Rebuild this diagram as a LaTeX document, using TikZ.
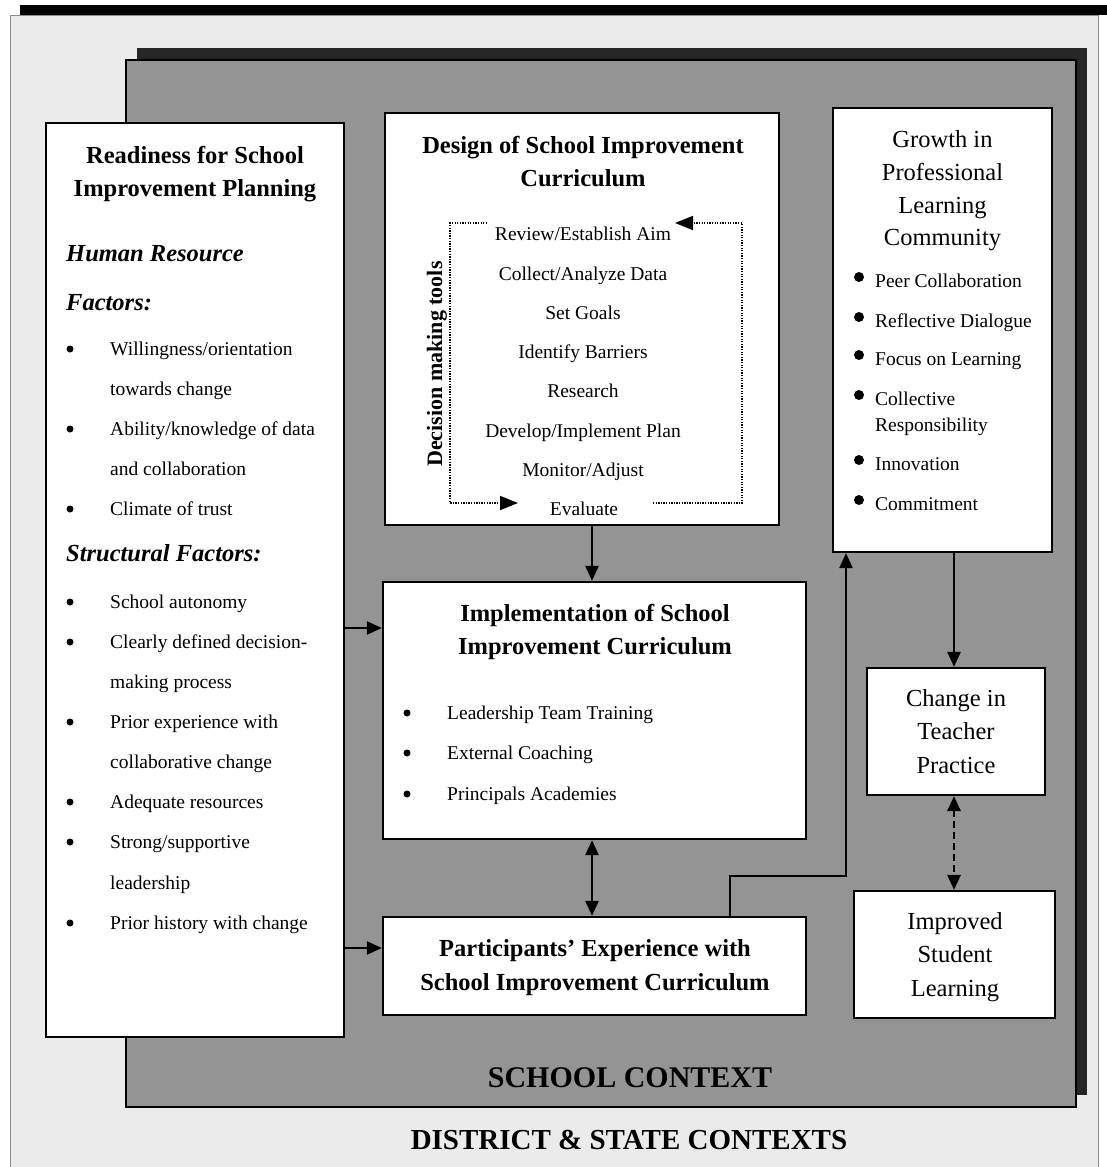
\documentclass[tikz,border=0pt]{standalone}
\usepackage{fontspec}
\setmainfont{Liberation Serif}
\usetikzlibrary{arrows.meta,calc}
\begin{document}
\begin{tikzpicture}[x=1pt,y=-1pt,
  box/.style={draw=black, line width=2.2pt, fill=white, rectangle, inner sep=0pt},
  hd/.style={font=\fontsize{24.5}{30}\selectfont\bfseries, anchor=base, inner sep=0pt},
  hdl/.style={font=\fontsize{24.5}{30}\selectfont\bfseries\itshape, anchor=base west, inner sep=0pt},
  tt/.style={font=\fontsize{24.5}{30}\selectfont, anchor=base, inner sep=0pt},
  bd/.style={font=\fontsize{19.5}{24}\selectfont, anchor=base west, inner sep=0pt},
  bdc/.style={font=\fontsize{19.5}{24}\selectfont, anchor=base, inner sep=0pt},
  dotb/.style={fill=black, circle, inner sep=0pt, minimum size=7pt},
  dotB/.style={fill=black, circle, inner sep=0pt, minimum size=10pt},
  arr/.style={line width=2.4pt, line join=miter, -{Triangle[length=15pt,width=13pt]}},
  darr/.style={line width=2.4pt, {Triangle[length=15pt,width=13pt]}-{Triangle[length=15pt,width=13pt]}},
  dotarr/.style={line width=1.8pt, dash pattern=on 1.3pt off 1.3pt, line join=miter, -{Triangle[length=18pt,width=14pt]}}
]
\useasboundingbox (0,0) rectangle (1107,1167);
% district & state background
\fill[black!8] (10,15) rectangle (1098,1167);
\draw[black!45, line width=0.8pt] (10,1167) -- (10,15) -- (1098,15) -- (1098,1167);
\fill[black] (20,5) rectangle (1107,15);
% school context
\fill[black!85] (137,48) rectangle (1087,1095);
\fill[black!42] (126,60) rectangle (1076,1107);
\draw[black, line width=1.4pt] (126,60) rectangle (1076,1107);
\node[font=\fontsize{30}{34}\selectfont\bfseries, inner sep=0pt] (school) at (630,1078) {SCHOOL CONTEXT};
\node[font=\fontsize{29}{34}\selectfont\bfseries, inner sep=0pt] (district) at (629,1140) {DISTRICT \& STATE CONTEXTS};

% boxes
\node[box, minimum width=298pt, minimum height=914pt] (ready) at (195,580) {};
\node[box, minimum width=394pt, minimum height=412pt] (design) at (582,319) {};
\node[box, minimum width=219pt, minimum height=444pt] (growth) at (942.5,330) {};
\node[box, minimum width=423pt, minimum height=257pt] (impl) at (594.5,710.5) {};
\node[box, minimum width=423pt, minimum height=98pt] (part) at (594.5,966) {};
\node[box, minimum width=178pt, minimum height=127pt] (change) at (956,731.5) {};
\node[box, minimum width=201pt, minimum height=127pt] (improved) at (954.5,954.5) {};

% readiness text
\node[hd] (r1) at (195,163.5) {Readiness for School};
\node[hd] (r2) at (195,196.5) {Improvement Planning};
\node[hdl] (hr1) at (66,261.5) {Human Resource};
\node[hdl] (hr2) at (66,310.5) {Factors:};
\node[dotb] (b1) at (70,349) {};
\node[bd] (t1) at (110,355) {Willingness/orientation};
\node[bd] (t1b) at (110,395) {towards change};
\node[dotb] (b2) at (70,429) {};
\node[bd] (t2) at (110,435) {Ability/knowledge of data};
\node[bd] (t2b) at (110,475) {and collaboration};
\node[dotb] (b3) at (70,509) {};
\node[bd] (t3) at (110,515) {Climate of trust};
\node[hdl] (sf) at (66,561.5) {Structural Factors:};
\node[dotb] (s1) at (70,602) {};
\node[bd] (u1) at (110,608) {School autonomy};
\node[dotb] (s2) at (70,642) {};
\node[bd] (u2) at (110,648) {Clearly defined decision-};
\node[bd] (u2b) at (110,688) {making process};
\node[dotb] (s3) at (70,722) {};
\node[bd] (u3) at (110,728) {Prior experience with};
\node[bd] (u3b) at (110,768) {collaborative change};
\node[dotb] (s4) at (70,802) {};
\node[bd] (u4) at (110,808) {Adequate resources};
\node[dotb] (s5) at (70,842) {};
\node[bd] (u5) at (110,848) {Strong/supportive};
\node[bd] (u5b) at (110,889) {leadership};
\node[dotb] (s6) at (70,923) {};
\node[bd] (u6) at (110,929) {Prior history with change};

% design text
\node[hd] (d1) at (583,153.5) {Design of School Improvement};
\node[hd] (d2) at (583,186.5) {Curriculum};
\node[bdc] (st1) at (583,240) {Review/Establish Aim};
\node[bdc] (st2) at (583,280) {Collect/Analyze Data};
\node[bdc] (st3) at (583,319) {Set Goals};
\node[bdc] (st4) at (583,358) {Identify Barriers};
\node[bdc] (st5) at (583,397) {Research};
\node[bdc] (st6) at (583,437) {Develop/Implement Plan};
\node[bdc] (st7) at (583,476) {Monitor/Adjust};
\node[bdc] (st8) at (584,515) {Evaluate};
\node[rotate=90, font=\fontsize{22}{26}\selectfont\bfseries, inner sep=0pt] (dmt) at (437,364) {Decision making tools};
\coordinate (la) at (487,223);
\coordinate (lb) at (450,223);
\coordinate (lc) at (450,503);
\coordinate (ld) at (518,503);
\coordinate (ra) at (653,503);
\coordinate (rb) at (742,503);
\coordinate (rc) at (742,223);
\coordinate (rd) at (675,223);
\draw[dotarr] (la) -- (lb) -- (lc) -- (ld);
\draw[dotarr] (ra) -- (rb) -- (rc) -- (rd);

% growth text
\node[tt] (g1) at (942.5,147.5) {Growth in};
\node[tt] (g2) at (942.5,180.5) {Professional};
\node[tt] (g3) at (942.5,213.5) {Learning};
\node[tt] (g4) at (942.5,245.5) {Community};
\node[dotB] (gb1) at (859,277) {};
\node[bd] (gt1) at (875,287) {Peer Collaboration};
\node[dotB] (gb2) at (859,317) {};
\node[bd] (gt2) at (875,327) {Reflective Dialogue};
\node[dotB] (gb3) at (859,355) {};
\node[bd] (gt3) at (875,365) {Focus on Learning};
\node[dotB] (gb4) at (859,395) {};
\node[bd] (gt4) at (875,405) {Collective};
\node[bd] (gt4b) at (875,431) {Responsibility};
\node[dotB] (gb5) at (859,460) {};
\node[bd] (gt5) at (875,470) {Innovation};
\node[dotB] (gb6) at (859,500) {};
\node[bd] (gt6) at (875,510) {Commitment};

% implementation text
\node[hd] (i1) at (595,621.5) {Implementation of School};
\node[hd] (i2) at (595,654.5) {Improvement Curriculum};
\node[dotb] (ib1) at (407,713) {};
\node[bd] (it1) at (447,719) {Leadership Team Training};
\node[dotb] (ib2) at (407,753) {};
\node[bd] (it2) at (447,759) {External Coaching};
\node[dotb] (ib3) at (407,794) {};
\node[bd] (it3) at (447,800) {Principals Academies};

% participants text
\node[hd] (p1) at (595,956.5) {Participants’ Experience with};
\node[hd] (p2) at (595,990.5) {School Improvement Curriculum};

% change & improved text
\node[tt] (c1) at (956,706.5) {Change in};
\node[tt] (c2) at (956,739.5) {Teacher};
\node[tt] (c3) at (956,773.5) {Practice};
\node[tt] (m1) at (955,929.5) {Improved};
\node[tt] (m2) at (955,962.5) {Student};
\node[tt] (m3) at (955,996.5) {Learning};

% connectors
\coordinate (ax) at (592,0);
\coordinate (ry1) at (0,628);
\coordinate (ry2) at (0,948);
\coordinate (px) at (730,0);
\coordinate (gx) at (846,0);
\coordinate (jy) at (0,876);
\coordinate (cx) at (954,0);
\draw[arr] (design.south -| ax) -- (impl.north -| ax);
\draw[arr] (ready.east |- ry1) -- (impl.west |- ry1);
\draw[arr] (ready.east |- ry2) -- (part.west |- ry2);
\draw[darr] (impl.south -| ax) -- (part.north -| ax);
\draw[arr] (part.north -| px) -- (px |- jy) -- (gx |- jy) -- (growth.south -| gx);
\draw[arr] (growth.south -| cx) -- (change.north -| cx);
\draw[darr, line width=2.8pt, dash pattern=on 7pt off 4pt] (change.south -| cx) -- (improved.north -| cx);
\end{tikzpicture}
\end{document}
